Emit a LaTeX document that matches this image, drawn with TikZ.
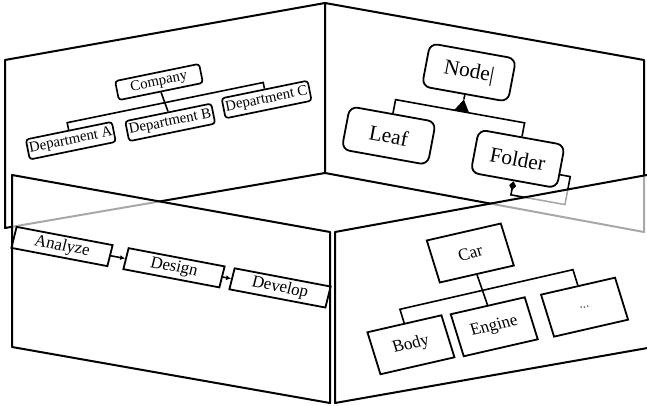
\documentclass[tikz,border=0pt]{standalone}
\usepackage{fontspec}
\setmainfont{Liberation Serif}
\usetikzlibrary{arrows.meta}

\begin{document}
\begin{tikzpicture}[x=1pt,y=-1pt,
  panelface/.style={draw=black, line width=2pt, line join=round, fill=white},
  glassface/.style={draw=black, line width=2pt, line join=round, fill=white, fill opacity=0.66},
  edge/.style={draw=black, line width=1.6pt},
  orgbox/.style={draw=black, line width=1.7pt, rounded corners=3pt, inner sep=0pt,
    minimum width=86pt, minimum height=20pt, transform shape,
    font=\fontsize{14.5}{15}\selectfont},
  classbox/.style={draw=black, line width=1.8pt, rounded corners=8pt, inner sep=0pt,
    minimum width=86pt, minimum height=43pt, transform shape,
    font=\fontsize{21}{23}\selectfont},
  flowbox/.style={draw=black, line width=1.8pt, inner sep=0pt,
    minimum width=96pt, minimum height=21pt, transform shape,
    font=\fontsize{16.5}{18}\selectfont},
  partbox/.style={draw=black, line width=1.8pt, inner sep=0pt,
    minimum width=74pt, minimum height=42pt, transform shape,
    font=\fontsize{16.5}{18}\selectfont},
  flowarrow/.style={draw=black, line width=1.6pt, -{Latex[length=5pt,width=5pt]}}
]
\useasboundingbox (0,0) rectangle (647,406);
\fill[white] (0,0) rectangle (647,406);
\clip (0,0) rectangle (647,406);

% ---- back wall, left face
\path[panelface] (5,60) -- (325,3) -- (325,173) -- (5,228) -- cycle;
% ---- back wall, right face
\path[panelface] (325,3) -- (644,60) -- (644,232) -- (325,173) -- cycle;

% ---- organisation chart on the left back face
\begin{scope}[shift={(159,82)}, cm={1,0.205,-0.2,1,(0,0)}]
  \node[orgbox, minimum width=84pt, minimum height=19pt] (company) at (0,0) {Company};
  \node[orgbox] (depA) at (-96,39) {Department A};
  \node[orgbox] (depB) at (3,41) {Department B};
  \node[orgbox] (depC) at (100,38) {Department C};
  \coordinate (forkA) at (-96,21);
  \coordinate (forkC) at (100,21);
  \draw[edge] (company.south) -- (depB.north);
  \draw[edge] (depA.north) -- (forkA) -- (forkC) -- (depC.north);
\end{scope}

% ---- class hierarchy on the right back face
\begin{scope}[shift={(469,72.5)}, cm={1,-0.18,0.19,1,(0,0)}]
  \node[classbox] (nodecls) at (0,0) {Node|};
  \node[classbox] (leaf) at (-66,75) {Leaf};
  \node[classbox] (folder) at (63,75) {Folder};
  \coordinate (barL) at (-66,39);
  \coordinate (barR) at (63,39);
  \coordinate (triL) at (-7.5,39);
  \coordinate (triR) at (7.5,39);
  \coordinate (triTop) at (0,27);
  \draw[edge] (leaf.north) -- (barL) -- (barR) -- (folder.north);
  \draw[edge] (triTop) -- (nodecls.south);
  \fill[black] (triL) -- (triR) -- (triTop) -- cycle;
  \coordinate (loopA) at (63,111);
  \coordinate (loopB) at (117,111);
  \coordinate (loopC) at (117,83);
  \coordinate (loopD) at (106,83);
  \draw[edge, {Diamond[length=9pt,width=7pt]}-] (folder.south) -- (loopA) -- (loopB) -- (loopC) -- (loopD);
\end{scope}

% ---- front wall, left face (translucent)
\path[glassface] (12,175) -- (330,232) -- (330,403) -- (12,347) -- cycle;
% ---- front wall, right face (translucent)
\path[glassface] (335,232) -- (660,172.6) -- (660,345.8) -- (335,403) -- cycle;

% ---- process flow on the left front face
\begin{scope}[shift={(62,246.5)}, cm={1,-0.19,0.25,1,(0,0)}]
  \node[flowbox] (analyze) at (0,0) {Analyze};
  \node[flowbox] (design) at (112,0) {Design};
  \node[flowbox] (develop) at (218,0) {Develop};
  \draw[flowarrow] (analyze.east) -- (design.west);
  \draw[flowarrow] (design.east) -- (develop.west);
\end{scope}

% ---- part tree on the right front face
\begin{scope}[shift={(470.3,253)}, cm={1,0.229,-0.31,1,(0,0)}]
  \node[partbox] (car) at (0,0) {Car};
  \node[partbox] (body) at (-82,73) {Body};
  \node[partbox] (engine) at (1,74) {Engine};
  \node[partbox, font=\fontsize{13}{14}\selectfont, text=black!75] (more) at (91,75) {...};
  \coordinate (barB) at (-82,37.5);
  \coordinate (barM) at (91,37.5);
  \draw[edge] (car.south) -- (engine.north);
  \draw[edge] (body.north) -- (barB) -- (barM) -- (more.north);
\end{scope}
\end{tikzpicture}
\end{document}
